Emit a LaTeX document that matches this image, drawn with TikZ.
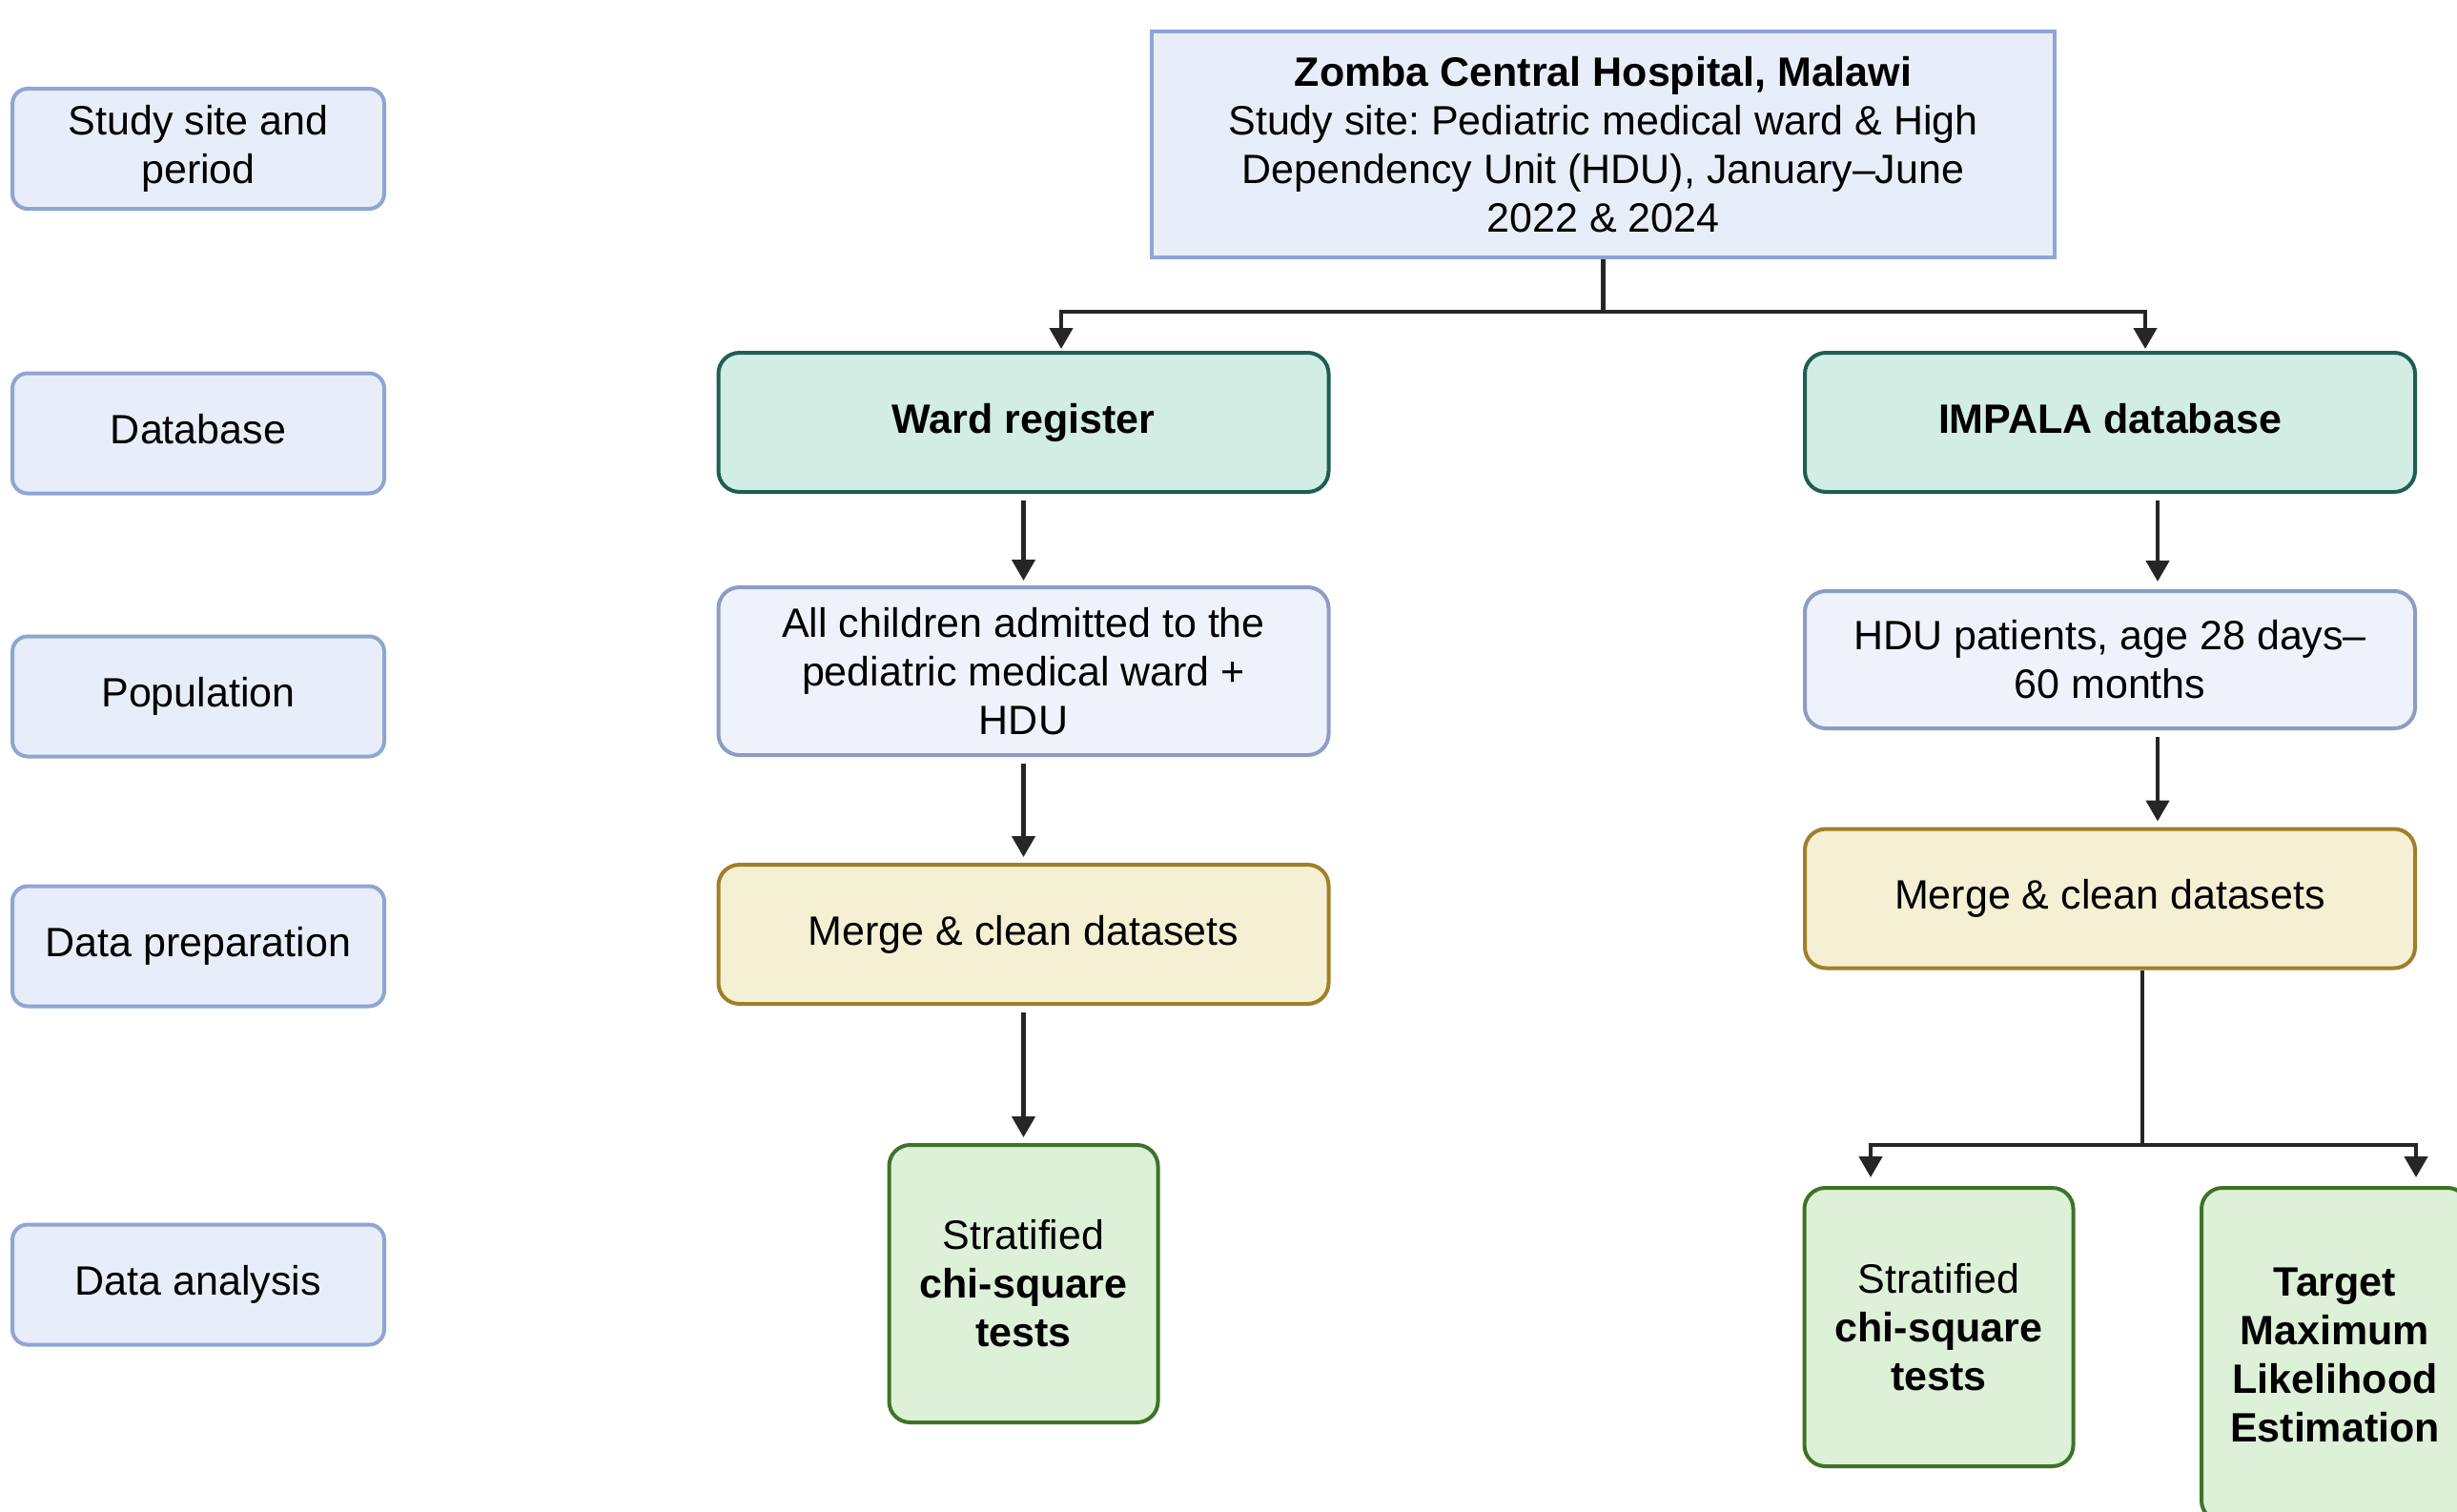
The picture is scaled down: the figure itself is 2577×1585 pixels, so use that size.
\documentclass[tikz,border=0pt]{standalone}
\usepackage{fontspec}
\setmainfont{Liberation Sans}
\usetikzlibrary{arrows.meta}
\definecolor{lblfill}{HTML}{E8EEF9}
\definecolor{lbldraw}{HTML}{8FA5D3}
\definecolor{dbfill}{HTML}{D2EDE4}
\definecolor{dbdraw}{HTML}{1F5E50}
\definecolor{popfill}{HTML}{EEF3FB}
\definecolor{popdraw}{HTML}{8D9CC4}
\definecolor{mgfill}{HTML}{F5EFD3}
\definecolor{mgdraw}{HTML}{A07F2A}
\definecolor{anfill}{HTML}{DDF0D8}
\definecolor{andraw}{HTML}{3E7327}
\definecolor{arrcol}{HTML}{262626}
\frenchspacing
\begin{document}
\begin{tikzpicture}[x=1pt,y=-1pt,
  base/.style={rectangle, align=center, line width=4pt, inner sep=0pt, text=black,
    font=\fontsize{43}{51}\selectfont},
  one/.style={text height=31pt, text depth=9pt},
  lbl/.style={base, fill=lblfill, draw=lbldraw, rounded corners=16pt, minimum width=390pt, minimum height=126pt},
  topbox/.style={base, fill=lblfill, draw=lbldraw, minimum width=947pt, minimum height=237pt},
  dbbox/.style={base, one, fill=dbfill, draw=dbdraw, rounded corners=22pt, minimum width=640pt, minimum height=146pt},
  popbox/.style={base, fill=popfill, draw=popdraw, rounded corners=22pt, minimum width=640pt},
  mgbox/.style={base, one, fill=mgfill, draw=mgdraw, rounded corners=22pt, minimum width=640pt, minimum height=146pt},
  anbox/.style={base, fill=anfill, draw=andraw, rounded corners=22pt, minimum width=282pt},
  arr/.style={draw=arrcol, line width=4.5pt, -{Triangle[length=22pt,width=24pt]}},
  ln/.style={draw=arrcol, line width=4.5pt}
]
\useasboundingbox[fill=white] (0,0) rectangle (2577,1585);

% left labels
\node[lbl] (l1) at (208,156) {Study site and\\period};
\node[lbl, one] (l2) at (208,454.5) {Database};
\node[lbl, one] (l3) at (208,730.5) {Population};
\node[lbl, one] (l4) at (208,992.5) {Data preparation};
\node[lbl, one] (l5) at (208,1347.5) {Data analysis};

% top
\node[topbox] (top) at (1681.5,151.5) {\textbf{Zomba Central Hospital, Malawi}\\Study site: Pediatric medical ward \& High\\Dependency Unit (HDU), January--June\\2022 \& 2024};

% databases
\node[dbbox] (ward) at (1073.5,443) {\textbf{Ward register}};
\node[dbbox] (impala) at (2213,443) {\textbf{IMPALA database}};

% population
\node[popbox, minimum height=176pt] (popL) at (1073.5,704) {All children admitted to the\\pediatric medical ward +\\HDU};
\node[popbox, minimum height=144pt] (popR) at (2213,692) {HDU patients, age 28 days--\\60 months};

% merge
\node[mgbox] (mgL) at (1073.5,980) {Merge \& clean datasets};
\node[mgbox] (mgR) at (2213,942.5) {Merge \& clean datasets};

% analysis
\node[anbox, minimum height=291pt] (chiL) at (1073.5,1346.5) {Stratified\\\textbf{chi-square}\\\textbf{tests}};
\node[anbox, minimum height=292pt] (chiR) at (2033.5,1392) {Stratified\\\textbf{chi-square}\\\textbf{tests}};
\node[anbox, minimum width=280pt, minimum height=350pt] (tmle) at (2449,1421) {\textbf{Target}\\\textbf{Maximum}\\\textbf{Likelihood}\\\textbf{Estimation}};

% connectors
\coordinate (j1) at (1681.5,327);
\draw[ln] (top.south) -- (j1);
\draw[arr] (j1) -| ([xshift=39.5pt,yshift=2pt]ward.north);
\draw[arr] (j1) -| ([xshift=37pt,yshift=2pt]impala.north);

\draw[arr, shorten <=7pt, shorten >=5pt] (ward.south) -- (popL.north);
\draw[arr, shorten <=7pt, shorten >=6pt] (popL.south) -- (mgL.north);
\draw[arr, shorten <=7pt, shorten >=6pt] (mgL.south) -- (chiL.north);

\draw[arr, shorten <=7pt, shorten >=8pt] ([xshift=50pt]impala.south) -- ([xshift=50pt]popR.north);
\draw[arr, shorten <=7pt, shorten >=6pt] ([xshift=50pt]popR.south) -- ([xshift=50pt]mgR.north);

\coordinate (j2) at (2247,1201);
\draw[ln] ([xshift=34pt]mgR.south) -- (j2);
\draw[arr, shorten >=9pt] (j2) -| ([xshift=-71.5pt]chiR.north);
\draw[arr, shorten >=9pt] (j2) -| ([xshift=85pt]tmle.north);
\end{tikzpicture}
\end{document}
